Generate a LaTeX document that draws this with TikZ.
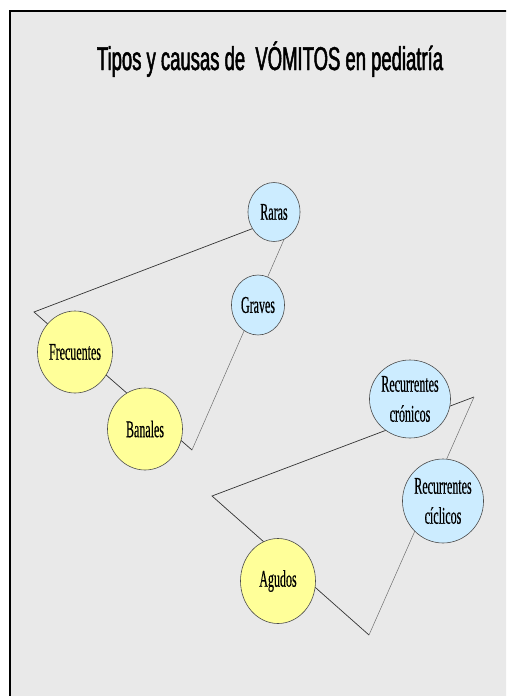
\documentclass[tikz,border=0pt]{standalone}
\usepackage{fontspec}
\setmainfont{Liberation Serif}
\newfontfamily\titlefont{Liberation Sans}[FakeStretch=0.56,FakeBold=1.5]
\newfontfamily\narrowfont{Liberation Serif}[FakeStretch=0.5,FakeBold=0.4]
\usetikzlibrary{shapes.geometric}

\definecolor{panel}{RGB}{233,233,233}
\definecolor{paleyellow}{RGB}{255,255,153}
\definecolor{paleblue}{RGB}{204,236,255}

\begin{document}
\begin{tikzpicture}[x=1pt,y=-1pt,
    cause/.style={ellipse, draw=black!70, line width=.6pt, inner sep=0pt, align=center,
      minimum width=75pt, minimum height=82pt,
      font=\narrowfont\fontsize{24}{30}\selectfont},
    common/.style={cause, fill=paleyellow},
    rare/.style={cause, fill=paleblue},
    side/.style={draw=black!80, line width=.7pt},
    thin side/.style={draw=black!60, line width=.45pt}]
    \useasboundingbox (0,0) rectangle (506,696);
    \clip (0,0) rectangle (506,696);
    \draw[fill=panel, line width=2pt] (10,11) rectangle (540,730);

    \node[anchor=base] (title) at (270,70)
      {\titlefont\fontsize{33}{36}\selectfont Tipos y causas de\ \ VÓMITOS en pediatría};

    % upper triangle
    \coordinate (a) at (34,312);
    \coordinate (b) at (192,450);
    \coordinate (p) at (296,212);
    \draw[side] (p) -- (a) -- (b);
    \draw[thin side] (b) -- (p);

    % lower triangle
    \coordinate (c) at (212,496);
    \coordinate (d) at (474,397);
    \coordinate (e) at (369,635);
    \draw[side] (d) -- (c) -- (e);
    \draw[thin side] (e) -- (d);

    \node[rare, minimum width=52pt, minimum height=59pt] (raras) at (274,212) {Raras};
    \node[rare, minimum width=53pt, minimum height=60pt] (graves) at (258,305) {Graves};
    \node[common] (frecuentes) at (75,352) {Frecuentes};
    \node[common] (banales) at (145,429) {Banales};

    \node[rare, minimum width=74pt, minimum height=78pt] (cronicos) at (410,399) {Recurrentes\\crónicos};
    \node[rare, minimum width=76pt, minimum height=84pt] (ciclicos) at (443,501) {Recurrentes\\cíclicos};
    \node[common, minimum width=75pt, minimum height=85pt] (agudos) at (278,581) {Agudos};
\end{tikzpicture}
\end{document}
